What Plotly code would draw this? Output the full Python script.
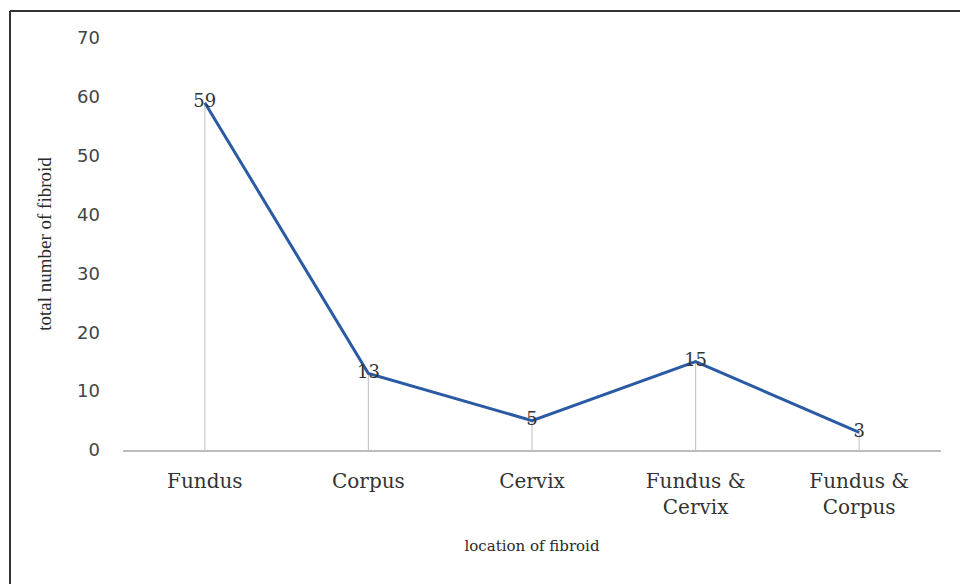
import plotly.graph_objects as go

categories = ["Fundus", "Corpus", "Cervix", "Fundus &<br>Cervix", "Fundus &<br>Corpus"]
counts = [59, 13, 5, 15, 3]
y_ticks = [0, 10, 20, 30, 40, 50, 60, 70]

W, H = 960, 584
ml, mr, mt, mb = 123, 19, 38, 134
pw = W - ml - mr
ph = H - mt - mb

def px_to_paper_x(px):
    return (px - ml) / pw

def px_to_paper_y(py):
    return (H - mb - py) / ph

fig = go.Figure()

# drop lines from each point to the axis
fig.add_trace(go.Scatter(
    x=categories, y=counts, mode="markers",
    marker=dict(size=1, color="rgba(0,0,0,0)"),
    error_y=dict(type="data", symmetric=False, array=[0] * len(counts),
                 arrayminus=counts, color="#C8C8C8", thickness=1.2, width=0),
    hoverinfo="skip", showlegend=False,
))

fig.add_trace(go.Scatter(
    x=categories, y=counts, mode="lines+text",
    line=dict(color="#2A5AA3", width=3),
    text=[str(v) for v in counts], textposition="middle center",
    textfont=dict(family="DejaVu Serif", size=18, color="#333333"),
    showlegend=False,
))

fig.update_layout(
    width=W, height=H,
    margin=dict(l=ml, r=mr, t=mt, b=mb),
    paper_bgcolor="white", plot_bgcolor="white",
    xaxis=dict(
        type="category", range=[-0.5, 4.5],
        showgrid=False, zeroline=False,
        showline=True, linecolor="#BDBDBD", linewidth=2,
        ticks="", ticklabelstandoff=12,
        tickfont=dict(family="DejaVu Serif", size=20, color="#333333"),
        title=dict(text="location of fibroid", standoff=22,
                   font=dict(family="DejaVu Serif", size=15, color="#2A2A2A")),
    ),
    yaxis=dict(
        range=[0, 70], tickvals=y_ticks,
        showgrid=False, zeroline=False, showline=False,
        ticks="", ticklabelstandoff=22,
        tickfont=dict(family="DejaVu Sans", size=18, color="#444444"),
        title=dict(text="total number of fibroid", standoff=20,
                   font=dict(family="Liberation Serif", size=19, color="#2A2A2A")),
    ),
    shapes=[
        dict(type="line", xref="paper", yref="paper",
             x0=px_to_paper_x(10), x1=px_to_paper_x(W + 5),
             y0=px_to_paper_y(11), y1=px_to_paper_y(11),
             line=dict(color="#333333", width=2)),
        dict(type="line", xref="paper", yref="paper",
             x0=px_to_paper_x(10), x1=px_to_paper_x(10),
             y0=px_to_paper_y(11), y1=px_to_paper_y(H + 5),
             line=dict(color="#333333", width=2)),
    ],
)

fig.write_html("out.html")
